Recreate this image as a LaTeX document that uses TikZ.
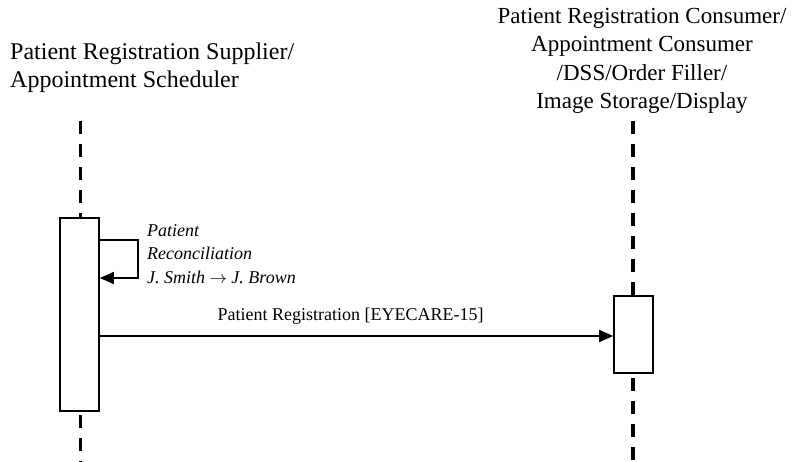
\documentclass[tikz,border=0pt]{standalone}
\usepackage{fontspec}
\setmainfont{Liberation Serif}
\usetikzlibrary{arrows.meta}
\begin{document}
\begin{tikzpicture}[x=1pt,y=-1pt,
  lifeline/.style={line width=3.5pt,dash pattern=on 13pt off 10pt},
  actbox/.style={draw,line width=1.6pt,fill=white},
  msg/.style={line width=1.4pt,-{Triangle[length=14pt,width=12pt]}},
  hdr/.style={inner sep=0pt,font=\fontsize{23}{28.5}\selectfont},
  lbl/.style={inner sep=0pt,font=\fontsize{18}{23.5}\selectfont}]
\useasboundingbox (0,0) rectangle (792,462);
% headers
\node[hdr,anchor=north west,align=left,font=\fontsize{24}{28}\selectfont] (h1) at (10,43) {Patient Registration Supplier/\\Appointment Scheduler};
\node[hdr,anchor=north,align=center] (h2) at (642,8) {Patient Registration Consumer/\\Appointment Consumer\\/DSS/Order Filler/\\Image Storage/Display};
% lifeline coordinates
\coordinate (l1top) at (80.5,121);
\coordinate (l1bot) at (80.5,462);
\coordinate (l2top) at (633,121);
\coordinate (l2bot) at (633,462);
\coordinate (l1b) at (80.5,415);
\coordinate (l2b) at (633,378);
% lifelines
\draw[lifeline] (l1top) -- (80.5,218);
\draw[lifeline] (l1b) -- (l1bot);
\draw[lifeline] (l2top) -- (633,296);
\draw[lifeline] (l2b) -- (l2bot);
% activation boxes
\node[actbox,minimum width=39pt,minimum height=193pt,inner sep=0pt] (a1) at (79.5,314.5) {};
\node[actbox,minimum width=39pt,minimum height=77pt,inner sep=0pt] (a2) at (633.5,334.5) {};
% self message
\coordinate (s1) at ([yshift=74.5pt]a1.east);
\coordinate (s2) at ([yshift=36.5pt]a1.east);
\draw[msg] (s1) -- ++(38,0) |- (s2);
\node[lbl,anchor=north west,align=left,font=\fontsize{18}{23.5}\selectfont\itshape] (t1) at (147,224) {Patient\\Reconciliation\\J. Smith $\rightarrow$ J. Brown};
% message
\draw[msg] (a1.east |- 0,336) -- (a2.west |- 0,336) node[lbl,midway,above=16pt,anchor=base,xshift=-6pt] (t2) {Patient Registration [EYECARE-15]};
\end{tikzpicture}
\end{document}
